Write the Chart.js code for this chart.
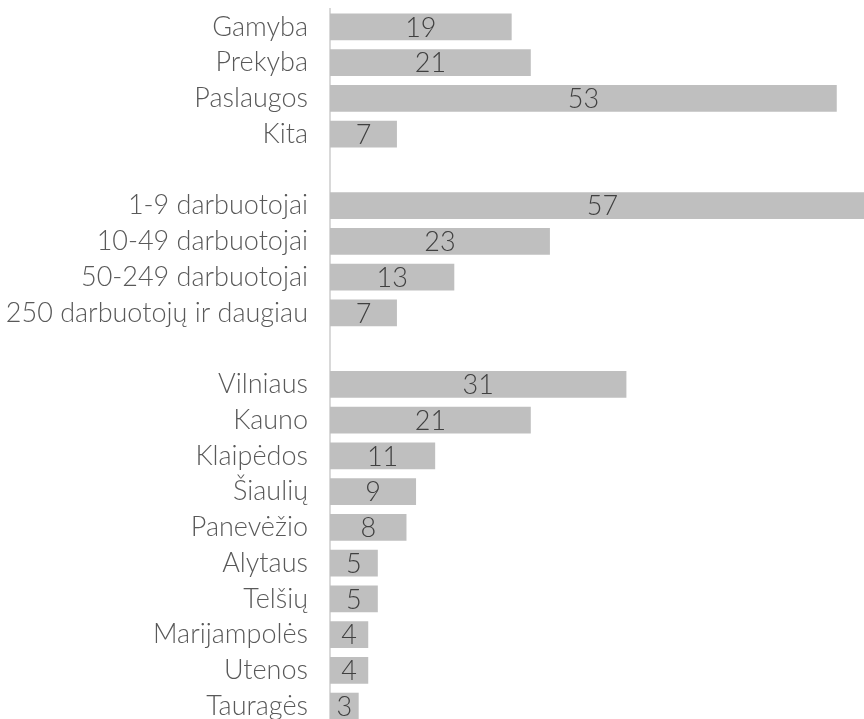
<!DOCTYPE html>
<html>
<head>
<meta charset="utf-8">
<script src="https://cdn.jsdelivr.net/npm/chart.js@4/dist/chart.umd.min.js"></script>
<style>
  html, body { margin: 0; padding: 0; background: #fff; overflow: hidden; }
  /* chart area runs a little past the window, as in the reference */
  #wrap { width: 875px; height: 724px; position: relative; }
</style>
</head>
<body>
<div id="wrap"><canvas id="chart"></canvas></div>
<script>
// Categories (empty strings are the gaps between groups)
const categories = [
    'Gamyba', 'Prekyba', 'Paslaugos', 'Kita',
    '',
    '1-9 darbuotojai', '10-49 darbuotojai', '50-249 darbuotojai', '250 darbuotojų ir daugiau',
    '',
    'Vilniaus', 'Kauno', 'Klaipėdos', 'Šiaulių', 'Panevėžio',
    'Alytaus', 'Telšių', 'Marijampolės', 'Utenos', 'Tauragės'
];

const values = [
    19, 21, 53, 7,
    null,
    57, 23, 13, 7,
    null,
    31, 21, 11, 9, 8, 5, 5, 4, 4, 3
];

const fontFamily = 'Lato, "Open Sans", sans-serif';

// Draw value labels centred on each bar
const barLabels = {
    id: 'barLabels',
    afterDatasetsDraw(chart) {
        const ctx = chart.ctx;
        const meta = chart.getDatasetMeta(0);
        ctx.save();
        ctx.font = '300 27px ' + fontFamily;
        ctx.fillStyle = '#404040';
        ctx.textAlign = 'center';
        ctx.textBaseline = 'middle';
        meta.data.forEach((bar, i) => {
            const v = values[i];
            if (v === null || v === undefined) return;
            ctx.fillText(String(v), (bar.x + bar.base) / 2, bar.y + 1);
        });
        ctx.restore();
    }
};

new Chart(document.getElementById('chart'), {
    type: 'bar',
    data: {
        labels: categories,
        datasets: [{
            data: values,
            backgroundColor: '#bfbfbf',
            borderWidth: 0,
            categoryPercentage: 0.75,
            barPercentage: 1.0
        }]
    },
    options: {
        indexAxis: 'y',
        responsive: true,
        maintainAspectRatio: false,
        animation: false,
        layout: {
            padding: { top: 9, bottom: 0, right: 0, left: 0 }
        },
        plugins: {
            legend: { display: false },
            tooltip: { enabled: false }
        },
        scales: {
            x: {
                display: false,
                min: 0,
                max: 57
            },
            y: {
                afterFit: (scale) => {
                    scale.width = 330;
                    scale.paddingTop = 0;
                    scale.paddingBottom = 0;
                },
                grid: { display: false, drawTicks: false },
                border: { display: true, color: '#d9d9d9', width: 2 },
                ticks: {
                    padding: 22,
                    color: '#595959',
                    font: { family: fontFamily, size: 27, weight: '300' }
                }
            }
        }
    },
    plugins: [barLabels]
});
</script>
</body>
</html>
